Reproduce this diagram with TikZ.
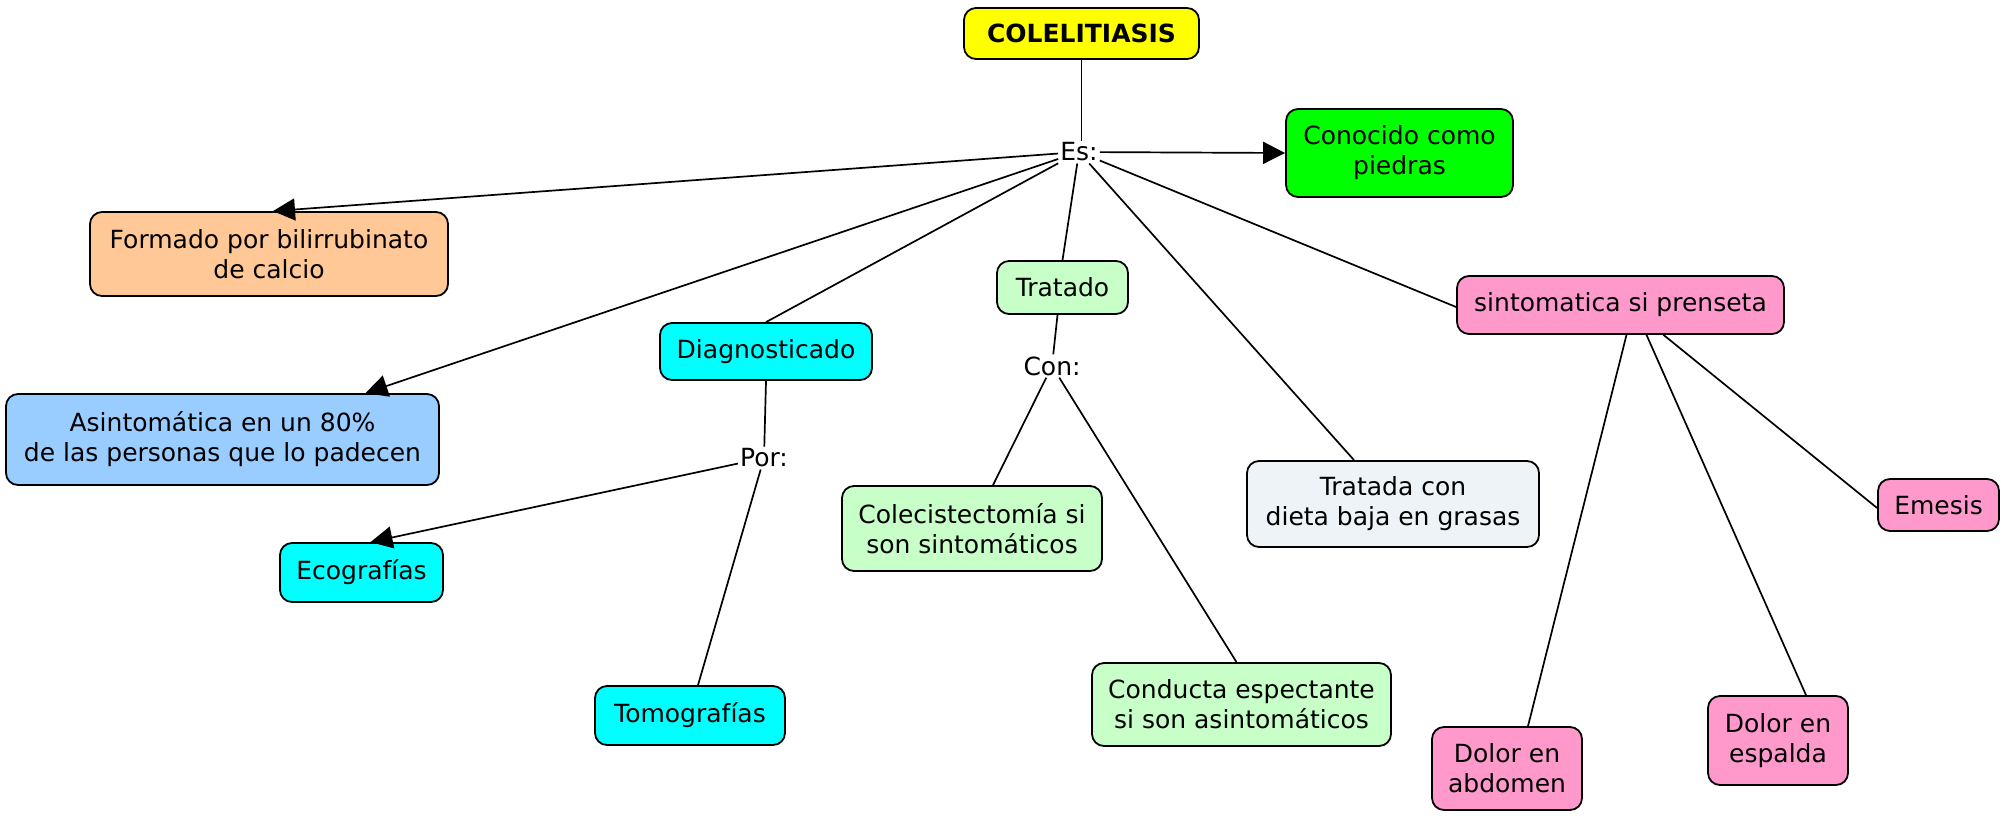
\documentclass[tikz,border=0pt]{standalone}
\usepackage{fontspec}
\setmainfont{DejaVu Sans}
\usetikzlibrary{arrows.meta}
\definecolor{cyellow}{HTML}{FFFF00}
\definecolor{cgreen}{HTML}{00FF00}
\definecolor{cpeach}{HTML}{FFC896}
\definecolor{cblue}{HTML}{99CCFF}
\definecolor{ccyan}{HTML}{00FFFF}
\definecolor{clgreen}{HTML}{C8FFC8}
\definecolor{cgrey}{HTML}{EDF3F6}
\definecolor{cpink}{HTML}{FF99CC}
\tikzset{
  concept/.style={draw=black, line width=1.8pt, rounded corners=12pt, inner sep=0pt,
    align=center, font=\fontsize{25}{30}\selectfont, text=black},
  linkword/.style={fill=white, inner sep=2pt, font=\fontsize{25}{30}\selectfont, text=black},
  conn/.style={line width=1.7pt, draw=black},
  arr/.style={conn, -{Triangle[length=22pt, width=22pt]}},
}
\begin{document}
\begin{tikzpicture}[x=1pt, y=-1pt]
\useasboundingbox[fill=white] (0,0) rectangle (2007,817);
% concepts
\node[concept, fill=cyellow, minimum width=235pt, minimum height=51pt, font=\fontsize{25}{30}\selectfont\bfseries] (top) at (1081.5,33.5) {COLELITIASIS};
\node[concept, fill=cgreen, minimum width=227pt, minimum height=88pt] (conoc) at (1399.5,153) {Conocido como\\piedras};
\node[concept, fill=cpeach, minimum width=358pt, minimum height=84pt] (form) at (269,254) {Formado por bilirrubinato\\de calcio};
\node[concept, fill=cblue, minimum width=433pt, minimum height=91pt] (asin) at (222.5,439.5) {Asintomática en un 80\%\\de las personas que lo padecen};
\node[concept, fill=ccyan, minimum width=212pt, minimum height=57pt] (diag) at (766,351.5) {Diagnosticado};
\node[concept, fill=clgreen, minimum width=131pt, minimum height=53pt] (trat) at (1062.5,287.5) {Tratado};
\node[concept, fill=ccyan, minimum width=163pt, minimum height=59pt] (eco) at (361.5,572.5) {Ecografías};
\node[concept, fill=ccyan, minimum width=190pt, minimum height=59pt] (tomo) at (690,715.5) {Tomografías};
\node[concept, fill=clgreen, minimum width=260pt, minimum height=85pt] (colec) at (972,528.5) {Colecistectomía si\\son sintomáticos};
\node[concept, fill=clgreen, minimum width=299pt, minimum height=83pt] (cond) at (1241.5,704.5) {Conducta espectante\\si son asintomáticos};
\node[concept, fill=cgrey, minimum width=292pt, minimum height=86pt] (dieta) at (1393,504) {Tratada con\\dieta baja en grasas};
\node[concept, fill=cpink, minimum width=327pt, minimum height=58pt] (sint) at (1620.5,305) {sintomatica si prenseta};
\node[concept, fill=cpink, minimum width=121pt, minimum height=52pt] (emesis) at (1938.5,505) {Emesis};
\node[concept, fill=cpink, minimum width=150pt, minimum height=83pt] (abd) at (1507,768.5) {Dolor en\\abdomen};
\node[concept, fill=cpink, minimum width=140pt, minimum height=89pt] (esp) at (1778,740.5) {Dolor en\\espalda};
% linking words
\node[linkword] (es) at (1079,152) {Es:};
\node[linkword] (con) at (1052,366) {Con:};
\node[linkword] (por) at (764,458) {Por:};
% connectors
\draw[conn] (top.south) -- (top.south |- es.north);
\draw[arr] (es) -- (conoc.west);
\draw[arr] (es) -- ([xshift=4pt]form.north);
\draw[arr] (es) -- ([xshift=143pt]asin.north);
\draw[conn] (es) -- (diag.north);
\draw[conn] (es) -- (trat.north);
\draw[conn] (es) -- ([xshift=-39pt]dieta.north);
\draw[conn] (es) -- ([yshift=-2pt]sint.west);
\draw[conn] ([xshift=-5pt]trat.south) -- (con);
\draw[conn] (con) -- ([xshift=21pt]colec.north);
\draw[conn] (con) -- ([xshift=-5pt]cond.north);
\draw[conn] (diag.south) -- (por);
\draw[arr] (por) -- ([xshift=9pt]eco.north);
\draw[conn] (por) -- ([xshift=8pt]tomo.north);
\draw[conn] ([xshift=6pt]sint.south) -- ([xshift=21pt]abd.north);
\draw[conn] ([xshift=26pt]sint.south) -- ([xshift=28pt]esp.north);
\draw[conn] ([xshift=43pt]sint.south) -- ([yshift=-3pt]emesis.west);
\end{tikzpicture}
\end{document}
